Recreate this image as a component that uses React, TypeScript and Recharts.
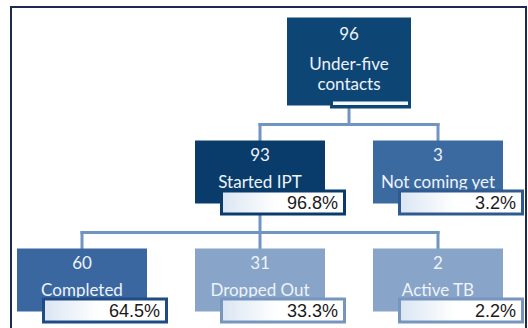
import { ScatterChart, Scatter, XAxis, YAxis, ReferenceLine } from 'recharts';

// IPT cascade for under-five contacts
const stages = ['Under-five\ncontacts', 'Started IPT', 'Not coming yet', 'Completed', 'Dropped Out', 'Active TB'];
const counts = [96, 93, 3, 60, 31, 2];
const shares: (number | null)[] = [null, 96.8, 3.2, 64.5, 33.3, 2.2];
const parents = [-1, 0, 0, 1, 1, 1];

// box colours, one per stage
const fills = ['#0d4675', '#0a3c6b', '#3b6aa1', '#3a67a0', '#88a4c8', '#88a4c8'];
const rims = ['#0d4675', '#0a3c6b', '#2e5a90', '#1f4c84', '#7696bf', '#7696bf'];
const LINK = '#7095c3';

const W = 528;
const H = 328;
const COL_PX = 178;
const FIRST_COL_PX = 82;
const LEVEL_PX = 108;
const ROOT_BOTTOM_PX = 107.5;
const BOX_H = 75;
const STUB = 17;

// depth of each stage in the tree
const levels = parents.map((_, i) => {
  let d = 0;
  let p = parents[i];
  while (p >= 0) {
    d++;
    p = parents[p];
  }
  return d;
});
const childrenOf = (i: number) => parents.map((p, j) => (p === i ? j : -1)).filter((j) => j >= 0);

// simple tidy layout: parents sit over the mean of their children, leaves step right
const columns: number[] = new Array(stages.length).fill(0);
const maxLevel = Math.max(...levels);
for (let l = maxLevel; l >= 0; l--) {
  let prev: number | null = null;
  stages.forEach((_, i) => {
    if (levels[i] !== l) return;
    const kids = childrenOf(i);
    if (kids.length) columns[i] = kids.reduce((s, k) => s + columns[k], 0) / kids.length;
    else columns[i] = prev === null ? 0 : prev + 1;
    prev = columns[i];
  });
}

const nodes = stages.map((name, i) => ({
  name,
  count: counts[i],
  share: shares[i],
  level: levels[i],
  column: columns[i],
  idx: i,
}));

const xDomain = [-FIRST_COL_PX / COL_PX, (W - FIRST_COL_PX) / COL_PX];
const yDomain = [-ROOT_BOTTOM_PX / LEVEL_PX, (H - ROOT_BOTTOM_PX) / LEVEL_PX];

// connector segments in data units
const links: { x1: number; y1: number; x2: number; y2: number }[] = [];
stages.forEach((_, i) => {
  const kids = childrenOf(i);
  if (!kids.length) return;
  const bus = levels[i] + STUB / LEVEL_PX;
  const cols = kids.map((k) => columns[k]);
  links.push({ x1: columns[i], y1: levels[i], x2: columns[i], y2: bus });
  links.push({ x1: Math.min(...cols), y1: bus, x2: Math.max(...cols), y2: bus });
  kids.forEach((k) => {
    links.push({ x1: columns[k], y1: bus, x2: columns[k], y2: levels[k] - BOX_H / LEVEL_PX });
  });
});

const textFont = 'Lato, "Open Sans", sans-serif';
const textFill = '#eef3f9';

function NodeBox(props: any) {
  const { cx, cy, payload } = props;
  const i = payload.idx;
  const fill = fills[i];
  const rim = rims[i];
  const gid = `pct-grad-${i}`;

  if (payload.level === 0) {
    const lines = payload.name.split('\n');
    return (
      <g>
        <rect x={cx - 62} y={cy - 90} width={124} height={88} fill={fill} />
        <rect x={cx - 19} y={cy - 9} width={81} height={10} fill={fill} />
        <rect x={cx - 16} y={cy - 6} width={75} height={3.5} fill="#f4f7fb" />
        <text x={cx} y={cy - 74} textAnchor="middle" dominantBaseline="central" fill={textFill} fontSize={17} fontFamily={textFont}>
          {payload.count}
        </text>
        {lines.map((ln: string, k: number) => (
          <text key={k} x={cx} y={cy - 44 + k * 20} textAnchor="middle" dominantBaseline="central" fill={textFill} fontSize={17} fontFamily={textFont}>
            {ln}
          </text>
        ))}
      </g>
    );
  }

  const top = cy - BOX_H;
  return (
    <g>
      <defs>
        <linearGradient id={gid} x1="0" y1="0" x2="1" y2="0">
          <stop offset="0%" stopColor="#dbe6f3" />
          <stop offset="45%" stopColor="#ffffff" />
        </linearGradient>
      </defs>
      <rect x={cx - 65} y={top} width={130} height={63} fill={fill} />
      <text x={cx} y={top + 14} textAnchor="middle" dominantBaseline="central" fill={textFill} fontSize={17} fontFamily={textFont}>
        {payload.count}
      </text>
      <text x={cx} y={top + 41} textAnchor="middle" dominantBaseline="central" fill={textFill} fontSize={17} fontFamily={textFont}>
        {payload.name}
      </text>
      <rect x={cx - 40} y={cy - 26} width={126} height={26} fill={rim} />
      <rect x={cx - 37} y={cy - 23} width={120} height={20} fill={`url(#${gid})`} />
      <text
        x={cx + 78}
        y={cy - 12.5}
        textAnchor="end"
        dominantBaseline="central"
        fill="#1a1a1a"
        fontSize={18}
        fontFamily='"Liberation Sans", Arial, sans-serif'
      >
        {`${payload.share.toFixed(1)}%`}
      </text>
    </g>
  );
}

export default function App() {
  return (
    <div style={{ position: 'absolute', left: 0, top: 0, width: W, height: H, overflow: 'hidden', background: '#fff' }}>
      <div
        style={{
          position: 'absolute',
          left: 10,
          top: 6,
          width: 517,
          height: 340,
          border: '2px solid #1c2a4c',
          boxSizing: 'border-box',
        }}
      />
      <div style={{ position: 'absolute', left: 0, top: 0 }}>
        <ScatterChart width={W} height={H} margin={{ top: 0, right: 0, bottom: 0, left: 0 }}>
          <XAxis type="number" dataKey="column" domain={xDomain} allowDataOverflow hide />
          <YAxis type="number" dataKey="level" domain={yDomain} allowDataOverflow reversed hide />
          {links.map((s, k) => (
            <ReferenceLine
              key={k}
              segment={[
                { x: s.x1, y: s.y1 },
                { x: s.x2, y: s.y2 },
              ]}
              stroke={LINK}
              strokeWidth={3}
              strokeLinecap="square"
            />
          ))}
          <Scatter data={nodes} shape={(p: any) => <NodeBox {...p} />} isAnimationActive={false} />
        </ScatterChart>
      </div>
    </div>
  );
}
